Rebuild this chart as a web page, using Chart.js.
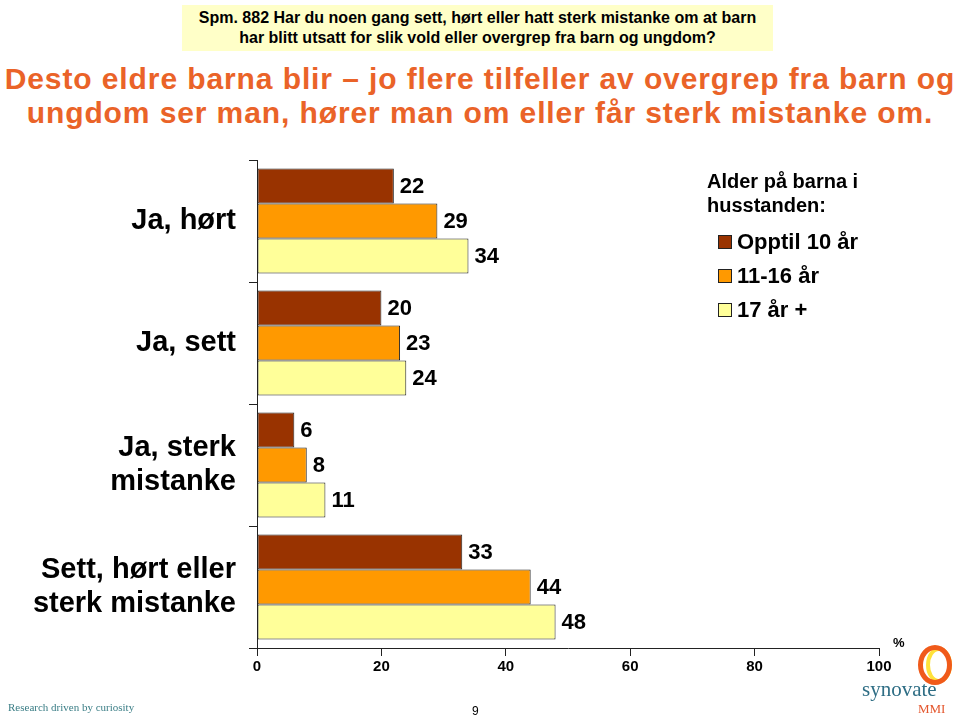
<!DOCTYPE html>
<html lang="no">
<head>
<meta charset="utf-8">
<title>Spm. 882</title>
<script src="https://cdn.jsdelivr.net/npm/chart.js@4.4.1/dist/chart.umd.min.js"></script>
<style>
  html, body { margin: 0; padding: 0; background: #fff; }
  body { width: 960px; height: 721px; position: relative; overflow: hidden; font-family: "Liberation Sans", Arial, sans-serif; }
  #chartWrap { position: absolute; left: 0; top: 0; width: 960px; height: 721px; }
  .qBox { position: absolute; left: 182px; top: 5px; width: 591px; height: 46px; background: #FFFFC8; font-weight: bold; font-size: 16px; line-height: 20px; text-align: center; padding-top: 3px; box-sizing: border-box; }
  .headline { position: absolute; left: 0; top: 62px; width: 960px; text-align: center; color: #EA6328; font-weight: bold; font-size: 30px; letter-spacing: 0.9px; line-height: 34px; white-space: nowrap; }
  .legend { position: absolute; left: 707px; top: 169px; font-weight: bold; }
  .legend .hdr { font-size: 20px; line-height: 24px; margin-bottom: 8px; }
  .legend .item { position: relative; padding-left: 30px; font-size: 22px; line-height: 34px; height: 34px; }
  .legend .sw { position: absolute; left: 11px; top: 10px; width: 12px; height: 12px; border: 1px solid #222; }
  .pct { position: absolute; left: 893px; top: 635px; font-weight: bold; font-size: 13px; }
  .tagline { position: absolute; left: 8px; top: 701px; font-family: "Liberation Serif", serif; font-size: 11px; color: #3B7E86; }
  .pageNo { position: absolute; left: 472px; top: 704px; font-size: 12px; }
  .ring { position: absolute; left: 918px; top: 645px; width: 24px; height: 30px; border: 5px solid #F05A1A; border-radius: 50%; }
  .ring2 { position: absolute; left: 926px; top: 647px; width: 18px; height: 28px; border: 4px solid #FFE23A; border-radius: 50%; }
  .syn { position: absolute; left: 862px; top: 677px; font-family: "Liberation Serif", serif; font-size: 21px; color: #2F6E85; }
  .mmi { position: absolute; left: 918px; top: 701px; font-family: "Liberation Serif", serif; font-size: 13px; color: #E4572E; }
</style>
</head>
<body>
<div class="qBox">Spm. 882 Har du noen gang sett, hørt eller hatt sterk mistanke om at barn<br>har blitt utsatt for slik vold eller overgrep fra barn og ungdom?</div>
<div class="headline">Desto eldre barna blir – jo flere tilfeller av overgrep fra barn og<br>ungdom ser man, hører man om eller får sterk mistanke om.</div>
<div id="chartWrap"><canvas id="ageChart" width="960" height="721"></canvas></div>
<div class="legend" id="legend"></div>
<div class="pct">%</div>
<div class="tagline">Research driven by curiosity</div>
<div class="pageNo">9</div>
<div class="ring2"></div>
<div class="ring"></div>
<div class="syn">synovate</div>
<div class="mmi">MMI</div>

<script>
/* Data */
const categories = [
  "Ja, hørt",
  "Ja, sett",
  ["Ja, sterk", "mistanke"],
  ["Sett, hørt eller", "sterk mistanke"],
];
const seriesNames = ["Opptil 10 år", "11-16 år", "17 år +"];
const upTo10 = [22, 20, 6, 33];
const age11to16 = [29, 23, 8, 44];
const age17plus = [34, 24, 11, 48];
const seriesColors = ["#993300", "#FF9900", "#FFFF99"];
const xTicks = [0, 20, 40, 60, 80, 100];

/* 1. Legenda em HTML */
const legendEl = document.getElementById("legend");
let legendHtml = '<div class="hdr">Alder på barna i<br>husstanden:</div>';
seriesNames.forEach(function (name, i) {
  legendHtml += '<div class="item"><span class="sw" style="background:' + seriesColors[i] + '"></span>' + name + "</div>";
});
legendEl.innerHTML = legendHtml;

/* 2. Rótulos de valor ao lado das barras */
const valueLabels = {
  id: "valueLabels",
  afterDatasetsDraw(chart) {
    const ctx = chart.ctx;
    ctx.save();
    ctx.font = "bold 22px 'Liberation Sans', Arial, sans-serif";
    ctx.fillStyle = "#000";
    ctx.textAlign = "left";
    ctx.textBaseline = "middle";
    chart.data.datasets.forEach(function (ds, di) {
      chart.getDatasetMeta(di).data.forEach(function (bar, i) {
        ctx.fillText(ds.data[i], bar.x + 6, bar.y + 1);
      });
    });
    ctx.restore();
  },
};

/* 3. Gráfico */
document.addEventListener("DOMContentLoaded", function () {
  const ctx = document.getElementById("ageChart").getContext("2d");
  const dataSeries = [upTo10, age11to16, age17plus];
  new Chart(ctx, {
    type: "bar",
    data: {
      labels: categories,
      datasets: seriesNames.map(function (name, i) {
        return {
          label: name,
          data: dataSeries[i],
          backgroundColor: seriesColors[i],
          borderColor: "#222",
          borderWidth: 1,
          borderSkipped: false,
          categoryPercentage: 0.86,
          barPercentage: 1,
        };
      }),
    },
    plugins: [valueLabels],
    options: {
      indexAxis: "y",
      responsive: false,
      animation: false,
      layout: { padding: { top: 160, right: 81, bottom: 0, left: 0 } },
      plugins: {
        legend: { display: false },
        title: { display: false },
        tooltip: { enabled: false },
      },
      scales: {
        x: {
          min: 0,
          max: 100,
          afterFit: function (s) { s.height = 73; },
          afterBuildTicks: function (s) { s.ticks = xTicks.map(function (v) { return { value: v }; }); },
          border: { display: true, color: "#222", width: 1 },
          grid: { drawOnChartArea: false, color: "#222", tickLength: 8 },
          ticks: {
            color: "#000",
            padding: 2,
            font: { family: "'Liberation Sans', Arial, sans-serif", size: 15, weight: "bold" },
          },
        },
        y: {
          afterFit: function (s) { s.width = 257; },
          border: { display: true, color: "#222", width: 1 },
          grid: { drawOnChartArea: false, color: "#222", tickLength: 8, offset: true },
          ticks: {
            color: "#000",
            padding: 13,
            font: { family: "'Liberation Sans', Arial, sans-serif", size: 29, weight: "bold", lineHeight: 1.2 },
          },
        },
      },
    },
  });
});
</script>
</body>
</html>
